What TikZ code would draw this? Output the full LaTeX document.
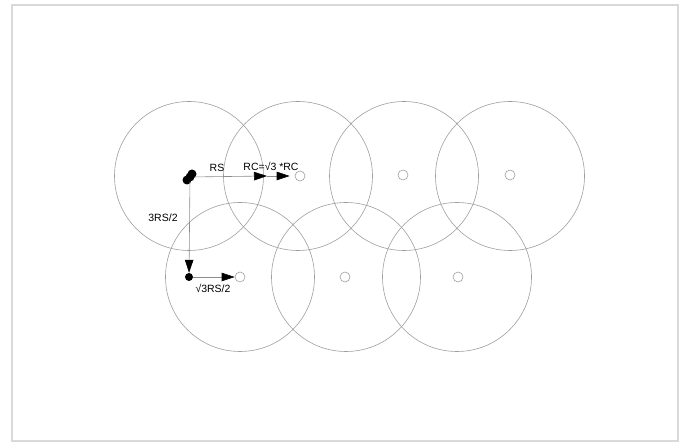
\documentclass[tikz,border=0pt]{standalone}
\usepackage{fontspec}
\setmainfont{Liberation Sans}
\usetikzlibrary{positioning, arrows.meta}

\begin{document}
\begin{tikzpicture}[
    x=1pt, y=-1pt,
    cell/.style={circle, draw=black!38, line width=0.6pt, minimum size=149pt, inner sep=0pt},
    hub/.style={circle, draw=black!38, line width=0.6pt, minimum size=10pt, inner sep=0pt},
    blob/.style={circle, fill=black, minimum size=9pt, inner sep=0pt},
    arrow/.style={draw=black!45, line width=0.6pt, -{Triangle[length=13pt, width=8.5pt, black]}},
    label/.style={font=\fontsize{10.5}{12}\selectfont, inner sep=1pt}
]
\useasboundingbox (0,0) rectangle (685,443);

% Frame
\draw[black!15, line width=1.8pt] (12,5) rectangle (678,441);

% Coverage cells, upper row
\node[cell] (cellA) at (189,176) {};
\node[cell] (cellB) at (298,176) {};
\node[cell] (cellC) at (404,176) {};
\node[cell] (cellD) at (510,176) {};

% Coverage cells, lower row
\node[cell] (cellE) at (240,277) {};
\node[cell] (cellF) at (346,277) {};
\node[cell] (cellG) at (457,277) {};

% Cell centres
\node[hub] (hubB) at (300,176) {};
\node[hub] (hubC) at (403,175) {};
\node[hub] (hubD) at (510,175) {};
\node[hub] (hubE) at (240,277) {};
\node[hub] (hubF) at (345,277) {};
\node[hub] (hubG) at (458,277) {};

% Sensor positions
\node[blob] (top) at (190,177) {};
\node[blob] at (187,180) {};
\node[blob] at (192,174) {};
\node[blob, minimum size=8pt] (low) at (189,277) {};

% Distances
\coordinate (rs) at (267,176);
\draw[arrow] (top) -- (rs);
\draw[arrow, shorten >=5pt] (rs) -- (hubB);
\draw[arrow] (top) -- (low);
\draw[arrow] (low) -- (hubE);

% Labels
\node[label] (lblRS) at (217,168) {RS};
\node[label] (lblRC) at (271,166) {RC=√3 *RC};
\node[label] (lblV) at (163,218) {3RS/2};
\node[label] (lblH) at (213,288) {√3RS/2};

\end{tikzpicture}
\end{document}
